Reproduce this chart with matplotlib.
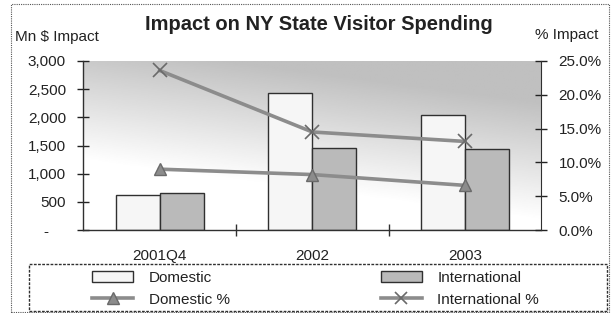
import numpy as np
import matplotlib
matplotlib.use("Agg")
import matplotlib.pyplot as plt
from matplotlib.patches import Rectangle
from matplotlib.lines import Line2D
from matplotlib.ticker import FuncFormatter

plt.rcParams["font.family"] = ["Liberation Sans", "DejaVu Sans"]

categories = ["2001Q4", "2002", "2003"]
domestic = [630, 2430, 2050]
international = [650, 1450, 1430]
domestic_pct = [9.0, 8.2, 6.6]
international_pct = [23.6, 14.5, 13.1]
left_ticks = [0, 500, 1000, 1500, 2000, 2500, 3000]
right_ticks = [0, 5, 10, 15, 20, 25]

W, H = 611, 313
fig = plt.figure(figsize=(W / 100, H / 100), dpi=100)
fig.patch.set_facecolor("white")

def fx(px):
    return px / W

def fy(py):
    return 1 - py / H

ax = fig.add_axes([fx(83.3), fy(230), fx(541.3) - fx(83.3), fy(61) - fy(230)])

# grey gradient behind the plot area
gx, gy = np.meshgrid(np.linspace(0, 1, 200), np.linspace(0, 1, 200))
t = np.clip((gy * 0.85 + gx * 0.3 - 0.35) / 0.6, 0, 1)
shade = 1.0 - 0.25 * t
ax.imshow(shade, cmap="gray", vmin=0, vmax=1, origin="lower", aspect="auto",
          extent=[0, 1, 0, 1], transform=ax.transAxes, zorder=0, interpolation="bilinear")

x = np.arange(len(categories))
bw = 0.288
ax.bar(x - bw / 2, domestic, bw, color="#f6f6f6", edgecolor="#303030", linewidth=1.0,
       zorder=2, label="Domestic")
ax.bar(x + bw / 2, international, bw, color="#bababa", edgecolor="#303030", linewidth=1.0,
       zorder=2, label="International")

ax.set_xlim(-0.5, 2.5)
ax.set_ylim(0, 3000)
ax.set_yticks(left_ticks)
ax.yaxis.set_major_formatter(FuncFormatter(lambda v, p: "-    " if v == 0 else f"{int(v):,}"))
ax.set_xticks(x)
ax.set_xticklabels(categories)
ax.set_xticks([0.5, 1.5], minor=True)
ax.tick_params(axis="x", which="major", length=0, pad=14, labelsize=11, colors="#222222")
ax.tick_params(axis="x", which="minor", direction="inout", length=9, width=1, color="#303030")
ax.tick_params(axis="y", direction="inout", length=9, width=1, pad=8, labelsize=11,
               colors="#222222")
ax.spines["top"].set_visible(False)
ax.spines["right"].set_visible(False)
for s in ["left", "bottom"]:
    ax.spines[s].set_color("#303030")
    ax.spines[s].set_linewidth(1.0)
ax.set_facecolor("none")

ax2 = ax.twinx()
ax2.set_ylim(0, 25)
ax2.set_yticks(right_ticks)
ax2.yaxis.set_major_formatter(FuncFormatter(lambda v, p: f"{v:.1f}%"))
ax2.tick_params(axis="y", direction="inout", length=9, width=1, pad=8, labelsize=11,
                colors="#222222")
ax2.spines["top"].set_visible(False)
ax2.spines["left"].set_visible(False)
ax2.spines["bottom"].set_visible(False)
ax2.spines["right"].set_color("#303030")
line_col = "#8c8c8c"
ax2.plot(x, domestic_pct, color=line_col, linewidth=2.6, marker="^", markersize=9,
         markerfacecolor="#8c8c8c", markeredgecolor="#6a6a6a", zorder=3, label="Domestic %")
ax2.plot(x, international_pct, color=line_col, linewidth=2.6, marker="x", markersize=10,
         markeredgewidth=1.2, markeredgecolor="#6a6a6a", zorder=3, label="International %")

fig.text(fx(319), fy(25), "Impact on NY State Visitor Spending", ha="center", va="center",
         fontsize=14.5, fontweight="bold", color="#222222")
fig.text(fx(15), fy(37), "Mn $ Impact", ha="left", va="center", fontsize=11, color="#222222")
fig.text(fx(535), fy(35), "% Impact", ha="left", va="center", fontsize=11, color="#222222")

# legend box
fig.patches.append(Rectangle((fx(29), fy(311)), fx(607) - fx(29), fy(264) - fy(311),
                             transform=fig.transFigure, fill=False, edgecolor="#303030",
                             linewidth=1.0, linestyle=(0, (2, 1))))
handles = [
    Rectangle((0, 0), 1, 1, facecolor="#f6f6f6", edgecolor="#303030", linewidth=1.0),
    Line2D([], [], color=line_col, linewidth=2.6, marker="^", markersize=8,
           markerfacecolor="#8c8c8c", markeredgecolor="#6a6a6a"),
    Rectangle((0, 0), 1, 1, facecolor="#bababa", edgecolor="#303030", linewidth=1.0),
    Line2D([], [], color=line_col, linewidth=2.6, marker="x", markersize=9,
           markeredgewidth=1.2, markeredgecolor="#6a6a6a"),
]
labels = ["Domestic", "Domestic %", "International", "International %"]
fig.legend(handles, labels, loc="upper left", bbox_to_anchor=(fx(92), fy(271)), ncol=2,
           frameon=False, fontsize=11, handlelength=2.7, handletextpad=1.0,
           columnspacing=9.9, borderpad=0, borderaxespad=0, labelspacing=0.5,
           labelcolor="#222222")

# dotted border of the whole chart
fig.patches.append(Rectangle((fx(11), fy(312)), fx(609) - fx(11), fy(4) - fy(312),
                             transform=fig.transFigure, fill=False, edgecolor="#555555",
                             linewidth=0.8, linestyle=(0, (1, 1))))

fig.savefig("out.png", dpi=100)
